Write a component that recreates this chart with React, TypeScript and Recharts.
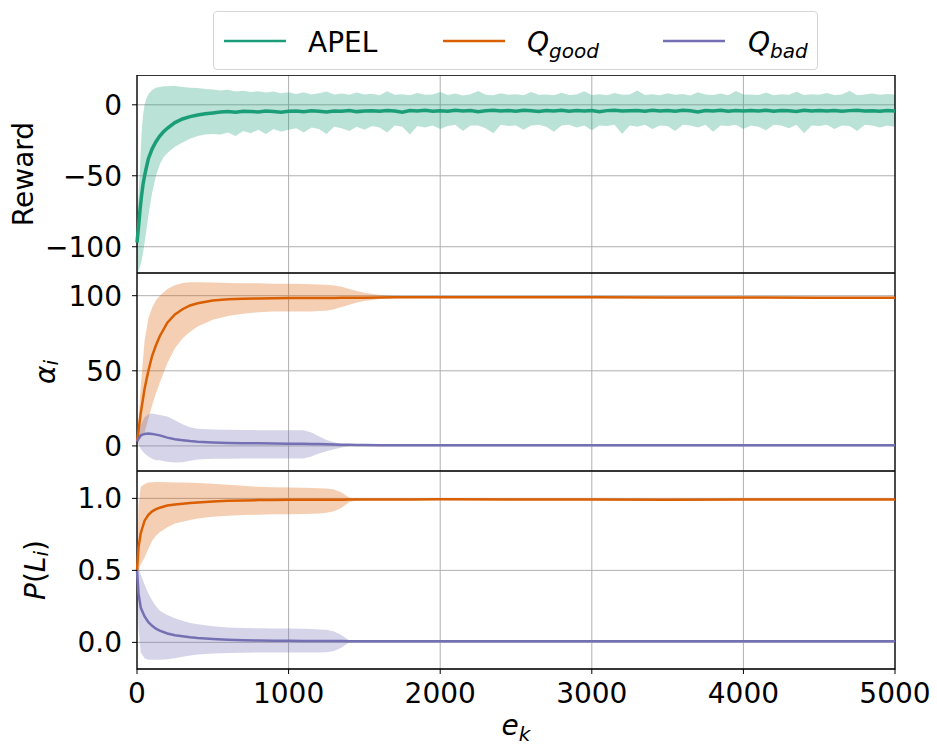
import React from "react";
import { ComposedChart, Area, Line, XAxis, YAxis, CartesianGrid, ReferenceArea, Label } from "recharts";

const GREEN = "#1b9e77";
const ORANGE = "#d95f02";
const PURPLE = "#7570b3";
const FONT = "DejaVu Sans";

// x ticks shared by all three panels
const xTicks = [0, 1000, 2000, 3000, 4000, 5000];

// Reward panel (APEL), sampled episodes
const rewardEpisodes = [
  0, 10, 20, 30, 40, 50, 60, 75, 100, 125, 150, 175, 200, 250, 300, 350, 400, 450, 500,
  550, 600, 650, 700, 750, 800, 850, 900, 950, 1000,
  1050, 1100, 1150, 1200, 1250, 1300, 1350, 1400, 1450, 1500,
  1550, 1600, 1650, 1700, 1750, 1800, 1850, 1900, 1950, 2000,
  2050, 2100, 2150, 2200, 2250, 2300, 2350, 2400, 2450, 2500,
  2550, 2600, 2650, 2700, 2750, 2800, 2850, 2900, 2950, 3000,
  3050, 3100, 3150, 3200, 3250, 3300, 3350, 3400, 3450, 3500,
  3550, 3600, 3650, 3700, 3750, 3800, 3850, 3900, 3950, 4000,
  4050, 4100, 4150, 4200, 4250, 4300, 4350, 4400, 4450, 4500,
  4550, 4600, 4650, 4700, 4750, 4800, 4850, 4900, 4950, 5000,
];
const rewardMean = [
  -97, -86, -74, -64, -56, -50, -45, -38, -31, -26, -22, -19, -16.5, -12.5, -10, -8.3, -7.2, -6.3, -5.7,
  -5.0, -4.7, -5.2, -4.5, -4.8, -5.0, -4.4, -4.7, -5.3, -4.6,
  -4.4, -4.9, -4.2, -4.6, -5.1, -4.3, -4.5, -4.1, -4.8, -4.4,
  -4.2, -4.6, -4.0, -4.4, -5.3, -4.1, -4.3, -3.9, -4.5, -4.2,
  -4.6, -3.9, -4.3, -4.0, -4.8, -4.2, -3.8, -4.4, -4.1, -4.5,
  -3.9, -4.2, -4.7, -4.0, -4.3, -3.8, -4.5, -4.1, -4.4, -4.0,
  -4.9, -4.1, -3.9, -4.4, -4.2, -4.0, -4.6, -3.8, -4.3, -4.1,
  -4.5, -3.9, -4.2, -5.1, -4.0, -4.3, -3.9, -4.6, -4.1, -4.4,
  -4.0, -4.3, -3.8, -4.5, -4.1, -4.2, -4.7, -3.9, -4.4, -4.0,
  -4.3, -4.0, -4.6, -4.1, -3.9, -4.4, -4.2, -4.5, -4.0, -4.3,
];
const rewardHigh = [
  -77, -64, -44, -20, -7, 0, 4, 7.5, 10.5, 12, 12.5, 13, 13, 13.2, 12.5, 12, 11.8, 11.2, 10.8,
  10.0, 10.6, 9.4, 9.9, 9.0, 9.6, 8.6, 9.3, 8.2, 8.9,
  7.6, 8.8, 7.2, 8.2, 9.4, 7.3, 7.9, 7.0, 8.6, 7.2,
  7.8, 6.8, 9.5, 7.1, 7.5, 6.7, 8.4, 7.0, 7.3, 9.0,
  6.9, 8.0, 6.6, 7.4, 9.8, 7.0, 6.8, 8.2, 7.1, 7.5,
  6.7, 9.1, 7.0, 7.3, 6.8, 8.5, 6.9, 7.2, 9.6, 6.9,
  7.4, 6.8, 8.3, 7.0, 7.2, 10.0, 6.9, 7.5, 6.7, 8.1,
  7.1, 7.6, 6.6, 8.8, 7.2, 6.9, 7.9, 6.8, 9.7, 7.2,
  7.3, 6.9, 8.6, 6.7, 7.4, 7.1, 9.2, 6.9, 7.5, 7.0,
  8.4, 6.9, 7.3, 9.9, 6.8, 7.3, 8.0, 7.0, 7.6, 7.2,
];
const rewardLow = [
  -119, -117, -114, -110, -104, -97, -90, -78, -62, -50, -42, -37, -34, -29.5, -26.5, -24, -22, -21, -20.5,
  -21, -19.5, -22, -18.5, -20, -17.5, -20.5, -17, -19, -17.5,
  -16.5, -19.5, -16, -17, -20.5, -15.5, -16.5, -18.5, -15.5, -17.5,
  -15, -16, -19.5, -14.5, -15.5, -21, -15, -16, -14.5, -17,
  -15, -14, -18.5, -14.5, -14.5, -16.5, -20, -14, -15, -14.5,
  -17.5, -14.5, -14, -15.5, -19, -14.5, -14, -16, -14.5, -18,
  -14.5, -15, -14, -20.5, -14.5, -15.5, -14, -17, -14.5, -15,
  -18.5, -14, -14.5, -16, -14, -19, -14.5, -15, -14, -17,
  -14.5, -15.5, -18, -14, -14.5, -16.5, -14, -20, -14.5, -15,
  -14, -17, -14.5, -15, -18.5, -14, -14.5, -16, -14.5, -15.5,
];

// alpha and P(L) panels, sampled episodes
const episodes = [
  0, 10, 25, 50, 75, 100, 125, 150, 200, 250,
  300, 350, 400, 500, 600, 700, 800, 900, 1000, 1100,
  1150, 1200, 1250, 1300, 1350, 1400, 1450, 1500, 1600, 1700,
  1800, 2000, 2500, 3000, 3500, 4000, 4500, 5000,
];
const alphaGoodMean = [
  3, 10, 22, 38, 50, 60, 67, 73, 82, 87.5,
  91, 93.5, 95, 96.8, 97.6, 98, 98.2, 98.3, 98.4, 98.5,
  98.5, 98.5, 98.5, 98.5, 98.6, 98.6, 98.7, 98.7, 98.8, 98.9,
  98.9, 98.9, 98.9, 98.9, 98.8, 98.8, 98.7, 98.6,
];
const alphaGoodHigh = [
  4, 18, 40, 70, 85, 92, 97, 100, 104.5, 107,
  108.5, 109, 109, 108.8, 108.5, 108.3, 108.2, 108, 108, 107.8,
  107.6, 107.4, 107.2, 106.8, 106, 104.5, 103.2, 102, 100.5, 99.8,
  99.5, 99.4, 99.4, 99.4, 99.3, 99.3, 99.2, 99.1,
];
const alphaGoodLow = [
  2, 3, 5, 9, 18, 27, 35, 42, 55, 65,
  71.5, 76, 79.5, 84, 86.5, 88, 89, 89.5, 89.5, 89.5,
  89.5, 89.8, 90, 91, 92.5, 94, 95.5, 96.5, 97.8, 98.3,
  98.5, 98.5, 98.5, 98.5, 98.4, 98.4, 98.3, 98.2,
];
const alphaBadMean = [
  3, 5, 7, 8, 8.3, 8, 7.5, 7, 5.5, 4.5,
  3.8, 3.2, 2.8, 2.3, 2, 1.8, 1.7, 1.6, 1.5, 1.4,
  1.3, 1.2, 1.1, 0.9, 0.8, 0.7, 0.6, 0.6, 0.5, 0.5,
  0.5, 0.5, 0.5, 0.5, 0.5, 0.5, 0.5, 0.5,
];
const alphaBadHigh = [
  3.5, 8, 14, 19, 21, 21.5, 21, 20.5, 19.5, 17,
  14.5, 12.5, 11.5, 11, 10.8, 10.6, 10.5, 10.5, 10.5, 10.4,
  9, 6.5, 4, 2.5, 1.3, 0.9, 0.7, 0.6, 0.5, 0.5,
  0.5, 0.5, 0.5, 0.5, 0.5, 0.5, 0.5, 0.5,
];
const alphaBadLow = [
  2.5, 1, -2, -5, -7, -8.5, -9.5, -9.5, -10.5, -11,
  -10.8, -9.8, -9, -8.6, -8.5, -8.4, -8.4, -8.4, -8.4, -8.3,
  -7, -5, -3.5, -2.2, -1, -0.2, 0.1, 0.2, 0.3, 0.3,
  0.3, 0.3, 0.3, 0.3, 0.3, 0.3, 0.3, 0.3,
];
const pGoodMean = [
  0.5, 0.66, 0.76, 0.845, 0.885, 0.91, 0.925, 0.935, 0.95, 0.958,
  0.963, 0.968, 0.972, 0.978, 0.983, 0.986, 0.988, 0.989, 0.99, 0.99,
  0.99, 0.991, 0.991, 0.991, 0.991, 0.992, 0.992, 0.992, 0.992, 0.992,
  0.992, 0.993, 0.992, 0.992, 0.991, 0.992, 0.992, 0.992,
];
const pGoodHigh = [
  0.55, 0.95, 1.08, 1.1, 1.11, 1.112, 1.113, 1.113, 1.112, 1.111,
  1.11, 1.109, 1.107, 1.102, 1.095, 1.087, 1.08, 1.077, 1.075, 1.073,
  1.072, 1.071, 1.069, 1.062, 1.04, 1.005, 0.998, 0.996, 0.996, 0.996,
  0.996, 0.996, 0.996, 0.996, 0.996, 0.996, 0.996, 0.996,
];
const pGoodLow = [
  0.45, 0.5, 0.54, 0.59, 0.65, 0.705, 0.74, 0.765, 0.8, 0.825,
  0.838, 0.85, 0.86, 0.872, 0.88, 0.884, 0.887, 0.889, 0.89, 0.892,
  0.893, 0.895, 0.9, 0.91, 0.935, 0.975, 0.986, 0.988, 0.988, 0.988,
  0.988, 0.988, 0.988, 0.988, 0.988, 0.988, 0.988, 0.988,
];
const pBadMean = [
  0.5, 0.34, 0.24, 0.18, 0.14, 0.115, 0.095, 0.082, 0.062, 0.05,
  0.042, 0.035, 0.03, 0.023, 0.018, 0.015, 0.013, 0.012, 0.011, 0.01,
  0.01, 0.01, 0.009, 0.009, 0.009, 0.008, 0.008, 0.008, 0.008, 0.008,
  0.008, 0.008, 0.008, 0.008, 0.008, 0.008, 0.008, 0.008,
];
const pBadHigh = [
  0.55, 0.52, 0.47, 0.4, 0.34, 0.29, 0.25, 0.22, 0.19, 0.168,
  0.15, 0.135, 0.125, 0.112, 0.104, 0.1, 0.098, 0.097, 0.096, 0.094,
  0.092, 0.09, 0.088, 0.075, 0.05, 0.015, 0.012, 0.011, 0.011, 0.011,
  0.011, 0.011, 0.011, 0.011, 0.011, 0.011, 0.011, 0.011,
];
const pBadLow = [
  0.45, 0.1, -0.07, -0.11, -0.12, -0.12, -0.12, -0.12, -0.118, -0.11,
  -0.1, -0.092, -0.085, -0.078, -0.074, -0.072, -0.07, -0.07, -0.07, -0.07,
  -0.07, -0.07, -0.068, -0.06, -0.035, 0, 0.004, 0.005, 0.005, 0.005,
  0.005, 0.005, 0.005, 0.005, 0.005, 0.005, 0.005, 0.005,
];

const legendItems = [
  { name: "APEL", sub: "", color: GREEN, lineX: 11, textX: 95 },
  { name: "Q", sub: "good", color: ORANGE, lineX: 230, textX: 314 },
  { name: "Q", sub: "bad", color: PURPLE, lineX: 450, textX: 535 },
];

const rewardData = rewardEpisodes.map((ep, i) => ({
  ep,
  mean: rewardMean[i],
  band: [rewardLow[i], rewardHigh[i]],
}));
const alphaData = episodes.map((ep, i) => ({
  ep,
  good: alphaGoodMean[i],
  goodBand: [alphaGoodLow[i], alphaGoodHigh[i]],
  bad: alphaBadMean[i],
  badBand: [alphaBadLow[i], alphaBadHigh[i]],
}));
const probData = episodes.map((ep, i) => ({
  ep,
  good: pGoodMean[i],
  goodBand: [pGoodLow[i], pGoodHigh[i]],
  bad: pBadMean[i],
  badBand: [pBadLow[i], pBadHigh[i]],
}));

const W = 937;
const AXIS_W = 137;
const RIGHT = 42;
const PANEL_H = 198;
const tickStyle = { fill: "#000", fontSize: 28, fontFamily: FONT };
const minus = (v: number) => String(v).replace("-", "\u2212");

const rotated = (cx: number, children: React.ReactNode) => (props: any) => {
  const vb = props.viewBox || {};
  const cy = vb.y + vb.height / 2;
  return (
    <text
      x={cx}
      y={cy}
      transform={`rotate(-90 ${cx} ${cy})`}
      textAnchor="middle"
      dominantBaseline="central"
      fontFamily={FONT}
      fontSize={28}
      fill="#000"
    >
      {children}
    </text>
  );
};

const Frame = ({ y1, y2 }: { y1: number; y2: number }) => (
  <ReferenceArea x1={0} x2={5000} y1={y1} y2={y2} fill="none" stroke="#000" strokeWidth={1.3} ifOverflow="visible" />
);

const Legend = () => (
  <div style={{ position: "absolute", left: 213, top: 11, width: 605, height: 59, border: "1px solid #d6d6d6", borderRadius: 4, background: "#fff", boxSizing: "border-box" }}>
    <svg width={605} height={59} style={{ position: "absolute", left: -1, top: -1 }}>
      {legendItems.map((it) => (
        <g key={it.name + it.sub}>
          <line x1={it.lineX} x2={it.lineX + 62} y1={30} y2={30} stroke={it.color} strokeWidth={2.5} />
          <text x={it.textX} y={41} fontFamily={FONT} fontSize={28} fill="#000">
            {it.sub ? (
              <>
                <tspan fontStyle="italic">{it.name}</tspan>
                <tspan fontStyle="italic" fontSize={20} dy={6}>{it.sub}</tspan>
              </>
            ) : (
              it.name
            )}
          </text>
        </g>
      ))}
    </svg>
  </div>
);

export default function App() {
  return (
    <div style={{ position: "absolute", left: 0, top: 0, width: W, height: 749, background: "#fff", overflow: "hidden" }}>
      <Legend />

      <div style={{ position: "absolute", left: 0, top: 75 }}>
        <ComposedChart width={W} height={PANEL_H} data={rewardData} margin={{ top: 0, right: RIGHT, bottom: 0, left: 0 }}>
          <CartesianGrid stroke="#b0b0b0" strokeWidth={1} />
          <XAxis type="number" dataKey="ep" domain={[0, 5000]} ticks={xTicks} hide />
          <YAxis
            type="number"
            domain={[-118.5, 21]}
            ticks={[-100, -50, 0]}
            allowDataOverflow
            width={AXIS_W}
            tick={tickStyle}
            tickSize={5}
            tickMargin={10}
            axisLine={false}
            tickLine={{ stroke: "#000" }}
            tickFormatter={minus}
          >
            <Label content={rotated(23, "Reward")} />
          </YAxis>
          <Area type="linear" dataKey="band" fill={GREEN} fillOpacity={0.3} stroke="none" isAnimationActive={false} />
          <Line type="linear" dataKey="mean" stroke={GREEN} strokeWidth={3.5} dot={false} isAnimationActive={false} />
          <Frame y1={-118.5} y2={21} />
        </ComposedChart>
      </div>

      <div style={{ position: "absolute", left: 0, top: 273 }}>
        <ComposedChart width={W} height={PANEL_H} data={alphaData} margin={{ top: 0, right: RIGHT, bottom: 0, left: 0 }}>
          <CartesianGrid stroke="#b0b0b0" strokeWidth={1} />
          <XAxis type="number" dataKey="ep" domain={[0, 5000]} ticks={xTicks} hide />
          <YAxis
            type="number"
            domain={[-16.7, 115.1]}
            ticks={[0, 50, 100]}
            allowDataOverflow
            width={AXIS_W}
            tick={tickStyle}
            tickSize={5}
            tickMargin={10}
            axisLine={false}
            tickLine={{ stroke: "#000" }}
          >
            <Label
              content={rotated(45, (
                <>
                  <tspan fontStyle="italic">α</tspan>
                  <tspan fontStyle="italic" fontSize={20} dy={6}>i</tspan>
                </>
              ))}
            />
          </YAxis>
          <Area type="linear" dataKey="goodBand" fill={ORANGE} fillOpacity={0.3} stroke="none" isAnimationActive={false} />
          <Area type="linear" dataKey="badBand" fill={PURPLE} fillOpacity={0.3} stroke="none" isAnimationActive={false} />
          <Line type="linear" dataKey="good" stroke={ORANGE} strokeWidth={2.5} dot={false} isAnimationActive={false} />
          <Line type="linear" dataKey="bad" stroke={PURPLE} strokeWidth={2.5} dot={false} isAnimationActive={false} />
          <Frame y1={-16.7} y2={115.1} />
        </ComposedChart>
      </div>

      <div style={{ position: "absolute", left: 0, top: 471 }}>
        <ComposedChart width={W} height={PANEL_H + 80} data={probData} margin={{ top: 0, right: RIGHT, bottom: 0, left: 0 }}>
          <CartesianGrid stroke="#b0b0b0" strokeWidth={1} />
          <XAxis
            type="number"
            dataKey="ep"
            domain={[0, 5000]}
            ticks={xTicks}
            height={80}
            tick={tickStyle}
            tickSize={5}
            tickMargin={9}
            axisLine={false}
            tickLine={{ stroke: "#000" }}
          >
            <Label
              content={(props: any) => {
                const vb = props.viewBox || {};
                return (
                  <text x={vb.x + vb.width / 2} y={vb.y + 66} textAnchor="middle" fontFamily={FONT} fontSize={28} fill="#000">
                    <tspan fontStyle="italic">e</tspan>
                    <tspan fontStyle="italic" fontSize={20} dy={6}>k</tspan>
                  </text>
                );
              }}
            />
          </XAxis>
          <YAxis
            type="number"
            domain={[-0.185, 1.19]}
            ticks={[0, 0.5, 1]}
            allowDataOverflow
            width={AXIS_W}
            tick={tickStyle}
            tickSize={5}
            tickMargin={10}
            axisLine={false}
            tickLine={{ stroke: "#000" }}
            tickFormatter={(v: number) => v.toFixed(1)}
          >
            <Label
              content={rotated(35, (
                <>
                  <tspan fontStyle="italic">P</tspan>
                  <tspan>(</tspan>
                  <tspan fontStyle="italic">L</tspan>
                  <tspan fontStyle="italic" fontSize={20} dy={6}>i</tspan>
                  <tspan dy={-6}>)</tspan>
                </>
              ))}
            />
          </YAxis>
          <Area type="linear" dataKey="goodBand" fill={ORANGE} fillOpacity={0.3} stroke="none" isAnimationActive={false} />
          <Area type="linear" dataKey="badBand" fill={PURPLE} fillOpacity={0.3} stroke="none" isAnimationActive={false} />
          <Line type="linear" dataKey="good" stroke={ORANGE} strokeWidth={2.5} dot={false} isAnimationActive={false} />
          <Line type="linear" dataKey="bad" stroke={PURPLE} strokeWidth={2.5} dot={false} isAnimationActive={false} />
          <Frame y1={-0.185} y2={1.19} />
        </ComposedChart>
      </div>
    </div>
  );
}
